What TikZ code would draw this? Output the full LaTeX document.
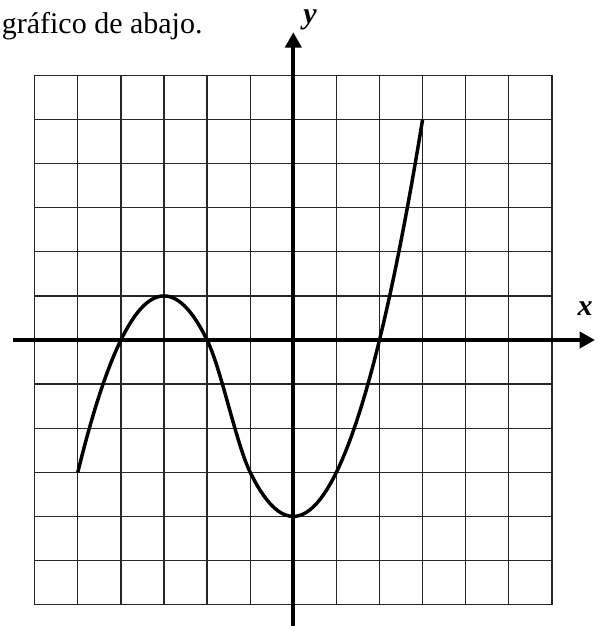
\documentclass[tikz,border=0pt]{standalone}
\usepackage{fontspec}
\setmainfont{Liberation Serif}
\usetikzlibrary{arrows.meta}

\begin{document}
\begin{tikzpicture}[x=32.33pt,y=33.08pt,
  gridline/.style={line width=1pt,draw=black!85},
  axis/.style={line width=3pt,-{Triangle[length=11.5pt,width=12pt]}},
  curve/.style={line width=2.6pt,line join=round},
  lbl/.style={font=\fontsize{22.5}{26}\selectfont,inner sep=1pt}]
  \useasboundingbox (-6.805,-6.485) rectangle (7.209,7.710);
  % grid
  \draw[gridline,xstep=1,ystep=1] (-6,-6) grid (6,6);
  % axes
  \coordinate (xfrom) at (-6.5,0);
  \coordinate (xto) at (7.0,0);
  \coordinate (yfrom) at (0,-6.6);
  \coordinate (yto) at (0,6.98);
  \draw[axis] (xfrom) -- (xto);
  \draw[axis] (yfrom) -- (yto);
  \node[lbl] (xlab) at (6.77,0.72) {\textbf{\textit{x}}};
  \node[lbl] (ylab) at (0.39,7.27) {\textbf{\textit{y}}};
  \node[lbl,anchor=base east,inner sep=0pt] (txt) at (-2.1,6.96) {gráfico de abajo.};
  % graph
  \draw[curve] plot[domain=-5:-2,samples=40] (\x,{-(\x+3)^2+1})
    .. controls (-1.667,-0.667) and (-1.333,-2.333) .. (-1,-3)
    -- plot[domain=-1:3,samples=50] (\x,{\x*\x-4});
\end{tikzpicture}
\end{document}
